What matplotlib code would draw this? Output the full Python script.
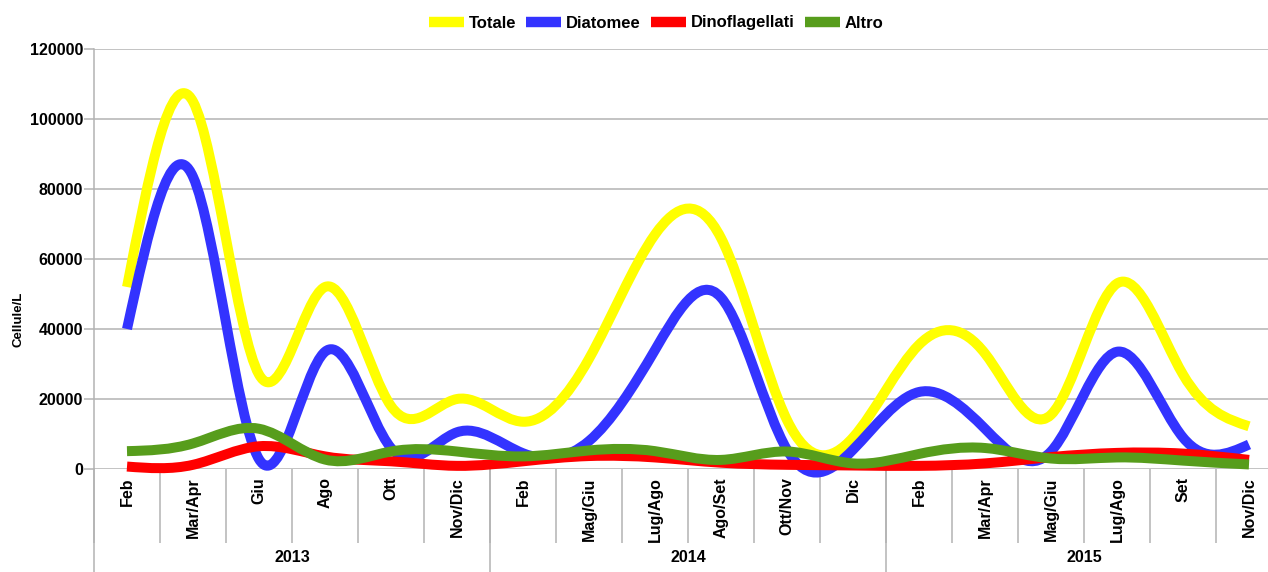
import numpy as np
import matplotlib
matplotlib.use("Agg")
import matplotlib.pyplot as plt
from matplotlib.path import Path
from matplotlib.patches import PathPatch
from matplotlib.lines import Line2D

# Dati
mesi = ["Feb", "Mar/Apr", "Giu", "Ago", "Ott", "Nov/Dic",
        "Feb", "Mag/Giu", "Lug/Ago", "Ago/Set", "Ott/Nov", "Dic",
        "Feb", "Mar/Apr", "Mag/Giu", "Lug/Ago", "Set", "Nov/Dic"]
anni = ["2013", "2014", "2015"]
mesi_per_anno = [6, 6, 6]

totale = [52000, 105000, 27000, 52000, 18000, 20000, 13500, 31500, 67000,
          66000, 14000, 9000, 35500, 33000, 15500, 53000, 27000, 12200]
diatomee = [40000, 83500, 2800, 33500, 6000, 10500, 4500, 8000, 34000,
            49000, 5500, 5500, 22000, 11500, 5000, 33500, 9000, 7000]
dinoflagellati = [700, 1200, 6500, 3600, 2200, 900, 2200, 3700, 3300,
                  1800, 1200, 1000, 900, 1600, 3400, 4600, 4400, 2600]
altro = [5100, 7300, 11500, 2700, 5000, 5000, 3600, 5300, 5100,
         2600, 5000, 1600, 4300, 6000, 3000, 3300, 2400, 1300]

serie = [("Totale", totale, "#ffff00"),
         ("Diatomee", diatomee, "#3333ff"),
         ("Dinoflagellati", dinoflagellati, "#ff0000"),
         ("Altro", altro, "#579d1c")]

plt.rcParams["font.family"] = ["Liberation Sans", "DejaVu Sans"]
plt.rcParams["font.weight"] = "bold"


def spline_path(y):
    # spline cubica naturale, resa come curve di Bezier
    y = np.asarray(y, dtype=float)
    n = len(y)
    A = np.zeros((n, n))
    b = np.zeros(n)
    A[0, 0] = A[-1, -1] = 1
    for i in range(1, n - 1):
        A[i, i - 1:i + 2] = [1, 4, 1]
        b[i] = 6 * (y[i + 1] - 2 * y[i] + y[i - 1])
    M = np.linalg.solve(A, b)
    d = np.zeros(n)
    d[:-1] = (y[1:] - y[:-1]) - (2 * M[:-1] + M[1:]) / 6
    d[-1] = (y[-1] - y[-2]) + (M[-2] + 2 * M[-1]) / 6
    verts = [(0, y[0])]
    codes = [Path.MOVETO]
    for i in range(n - 1):
        verts += [(i + 1 / 3, y[i] + d[i] / 3),
                  (i + 2 / 3, y[i + 1] - d[i + 1] / 3),
                  (i + 1, y[i + 1])]
        codes += [Path.CURVE4] * 3
    return Path(verts, codes)


fig = plt.figure(figsize=(12.68, 5.72), dpi=100)
W, H = 1268, 572
ax = fig.add_axes([94 / W, (H - 469) / H, (1282 - 94) / W, 420 / H])

x = np.arange(len(mesi))
ax.set_xlim(-0.5, len(mesi) - 0.5)
ax.set_ylim(0, 120000)
ax.set_yticks(range(0, 120001, 20000))
ax.grid(axis="y", color="#b3b3b3", lw=1.1)
ax.set_axisbelow(True)

handles = []
for k, (nome, val, col) in enumerate(serie):
    patch = PathPatch(spline_path(val), fill=False, edgecolor=col, lw=7.2,
                      capstyle="butt", joinstyle="round", clip_on=False,
                      zorder=3 + k)
    ax.add_patch(patch)
    handles.append(Line2D([], [], color=col, lw=7.5, solid_capstyle="butt"))

for s in ["top", "right", "bottom"]:
    ax.spines[s].set_visible(False)
ax.spines["left"].set_color("#b3b3b3")
ax.spines["left"].set_linewidth(1.1)

ax.tick_params(axis="y", length=7, width=1.1, color="#b3b3b3", pad=1,
               labelsize=11.5)
ax.set_yticklabels([str(v) for v in range(0, 120001, 20000)],
                   fontweight="bold")

ax.set_xticks(x)
ax.set_xticklabels(mesi, rotation=90, fontsize=11.5, fontweight="bold",
                   va="top")
ax.tick_params(axis="x", which="major", length=0, pad=6)
ax.set_xticks(np.arange(-0.5, len(mesi), 1), minor=True)
ax.tick_params(axis="x", which="minor", length=53, width=1.1,
               color="#b3b3b3")

# separatori e etichette degli anni
trans = ax.get_xaxis_transform()
inizio = -0.5
for anno, n in zip(anni, mesi_per_anno):
    ax.plot([inizio, inizio], [0, -103 / 420], transform=trans,
            color="#b3b3b3", lw=1.1, clip_on=False)
    ax.text(inizio + n / 2, -88 / 420, anno, transform=trans, ha="center",
            va="center", fontsize=11.5, fontweight="bold")
    inizio += n
ax.plot([inizio, inizio], [0, -103 / 420], transform=trans,
        color="#b3b3b3", lw=1.1, clip_on=False)

fig.text(18 / W, 1 - 319 / H, "Cellule/L", rotation=90, ha="center",
         va="center", fontsize=9.5, fontweight="bold")

fig.legend(handles, [s[0] for s in serie], loc="center",
           bbox_to_anchor=(656 / W, 1 - 23 / H), ncol=4, frameon=False,
           fontsize=12, handlelength=2.1, handletextpad=0.3,
           columnspacing=0.6)

fig.savefig("out.png", dpi=100)
